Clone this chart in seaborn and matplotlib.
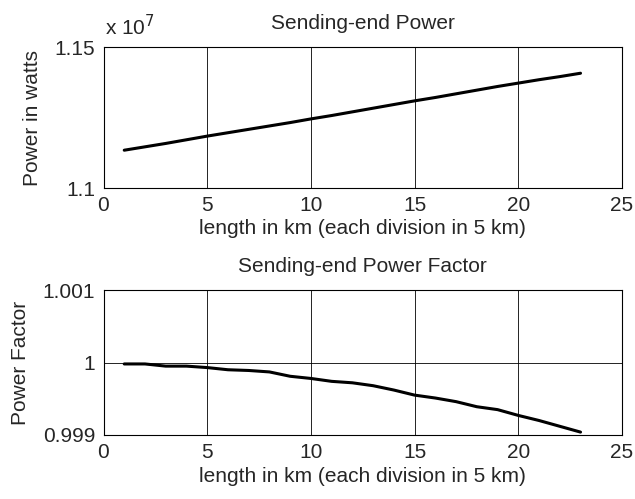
import numpy as np
import pandas as pd
import matplotlib
matplotlib.use('Agg')
import matplotlib.pyplot as plt
import seaborn as sns
from matplotlib.ticker import FuncFormatter

# length points (km index)
length = list(range(1, 24))

# sending-end power in watts
power = [1.1134e7, 1.1146e7, 1.1158e7, 1.1171e7, 1.1184e7, 1.1196e7, 1.1208e7,
         1.1220e7, 1.1232e7, 1.1245e7, 1.1257e7, 1.1270e7, 1.1283e7, 1.1296e7,
         1.1309e7, 1.1321e7, 1.1334e7, 1.1347e7, 1.1360e7, 1.1372e7, 1.1384e7,
         1.1395e7, 1.1407e7]

# sending-end power factor
pf = [0.99998, 0.99998, 0.99995, 0.99995, 0.99993, 0.99990, 0.99989, 0.99987,
      0.99981, 0.99978, 0.99974, 0.99972, 0.99968, 0.99962, 0.99955, 0.99951,
      0.99946, 0.99939, 0.99935, 0.99927, 0.99920, 0.99912, 0.99904]

df = pd.DataFrame({'length': length, 'power': power, 'pf': pf})

sns.set_style("white")
plt.rcParams['font.family'] = ['Liberation Sans', 'DejaVu Sans']
fs = 15

fig = plt.figure(figsize=(6.35, 4.99), dpi=100)
W, H = 635, 499
ax1 = fig.add_axes([103.5/W, 1 - 188/H, 518.5/W, 141/H])
ax2 = fig.add_axes([103.5/W, 1 - 435/H, 518.5/W, 145/H])

sns.lineplot(data=df, x='length', y='power', ax=ax1, color='black', linewidth=2.2)
sns.lineplot(data=df, x='length', y='pf', ax=ax2, color='black', linewidth=2.2)

for ax in (ax1, ax2):
    ax.set_xlim(0, 25)
    ax.set_xticks([0, 5, 10, 15, 20, 25])
    ax.grid(True, color='black', linewidth=0.6)
    ax.tick_params(direction='in', length=4, labelsize=fs, pad=6)
    ax.set_xlabel('length in km (each division in 5 km)', fontsize=fs, labelpad=3)
    for s in ax.spines.values():
        s.set_color('black')
        s.set_linewidth(0.8)

ax1.set_ylim(1.1e7, 1.15e7)
ax1.set_yticks([1.1e7, 1.15e7])
ax1.yaxis.set_major_formatter(FuncFormatter(lambda v, p: f'{v/1e7:g}'))
ax1.set_ylabel('Power in watts', fontsize=fs, labelpad=9)
ax1.set_title('Sending-end Power', fontsize=fs, pad=13)
ax1.text(0.003, 1 + 12/141, 'x 10$^7$', transform=ax1.transAxes, fontsize=fs,
         ha='left', va='baseline')

ax2.set_ylim(0.999, 1.001)
ax2.set_yticks([0.999, 1.0, 1.001])
ax2.yaxis.set_major_formatter(FuncFormatter(lambda v, p: f'{v:g}'))
ax2.set_ylabel('Power Factor', fontsize=fs, labelpad=9)
ax2.set_title('Sending-end Power Factor', fontsize=fs, pad=13)

fig.savefig('out.png', dpi=100)
